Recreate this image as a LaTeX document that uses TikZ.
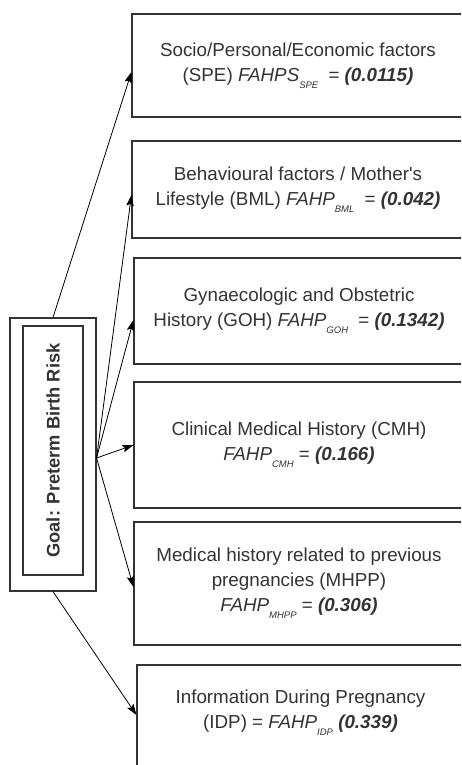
\documentclass[tikz,border=0pt]{standalone}
\usepackage{fontspec}
\setmainfont{Liberation Sans}
\usetikzlibrary{arrows.meta}
\definecolor{boxgray}{HTML}{333333}
\newcommand{\fsub}[1]{\raisebox{-7pt}{\fontsize{9.5}{9.5}\selectfont\itshape #1}}
\newcommand{\wt}[1]{\textbf{\textit{#1}}}

\begin{document}
\begin{tikzpicture}[x=1pt,y=-1pt,>={Stealth[length=11pt,width=7.5pt,inset=2pt]},
  factor/.style={rectangle,draw=boxgray,line width=1.1pt,inner sep=0pt,align=center,text=boxgray,font=\fontsize{18.8}{25}\selectfont},
  goal box/.style={rectangle,draw=boxgray,line width=1.1pt,inner sep=0pt},
  link/.style={->,line width=0.8pt}]

            \clip (0,0) rectangle (461,765);

            % goal
            \node[goal box, minimum width=86pt, minimum height=273pt] (goal) at (53,454.5) {};
            \node[goal box, minimum width=60pt, minimum height=249pt] (goalin) at (53,450.5) {};
            \node[rotate=90, font=\fontsize{18.3}{22}\selectfont\bfseries, text=boxgray] (goaltext) at (goalin.center) {Goal: Preterm Birth Risk};
            \coordinate (hub) at ([yshift=-3.5pt]goal.east);

            % factors
            \node[factor, minimum width=332pt, minimum height=103pt] (spe) at (298,65.5)
              {Socio/Personal/Economic factors\\(SPE) \textit{FAHPS}\fsub{SPE}\hspace{5pt} = \wt{(0.0115)}};
            \node[factor, minimum width=332pt, minimum height=97pt] (bml) at (298,189.5)
              {Behavioural factors / Mother\textquotesingle s\\Lifestyle (BML) \textit{FAHP}\fsub{BML}\hspace{5pt} = \wt{(0.042)}};
            \node[factor, minimum width=330pt, minimum height=106pt] (goh) at (299,311)
              {Gynaecologic and Obstetric\\History (GOH) \textit{FAHP}\fsub{GOH}\hspace{5pt} = \wt{(0.1342)}};
            \node[factor, minimum width=330pt, minimum height=126pt] (cmh) at (299,445)
              {Clinical Medical History (CMH)\\\textit{FAHP}\fsub{CMH} = \wt{(0.166)}};
            \node[factor, minimum width=330pt, minimum height=123pt] (mhpp) at (299,583.5)
              {Medical history related to previous\\pregnancies (MHPP)\\\textit{FAHP}\fsub{MHPP} = \wt{(0.306)}};
            \node[factor, minimum width=327pt, minimum height=110pt] (idp) at (300.5,720) {};
            \node[factor, draw=none] (idptext) at ([yshift=7pt]idp.center)
              {Information During Pregnancy\\(IDP) = \textit{FAHP}\fsub{IDP} \wt{(0.339)}};

            \draw[link] (goal.north) to ([yshift=-6.5pt]spe.west);
            \draw[link] (hub) to ([yshift=-5.5pt]bml.west);
            \draw[link] (hub) to ([yshift=-9pt]goh.west);
            \draw[link] (hub) to (cmh.west);
            \draw[link] (hub) to ([yshift=-3.5pt]mhpp.west);
            \draw[link] (goal.south) to ([yshift=5pt]idp.west);

            ;
        \end{tikzpicture}
\end{document}
